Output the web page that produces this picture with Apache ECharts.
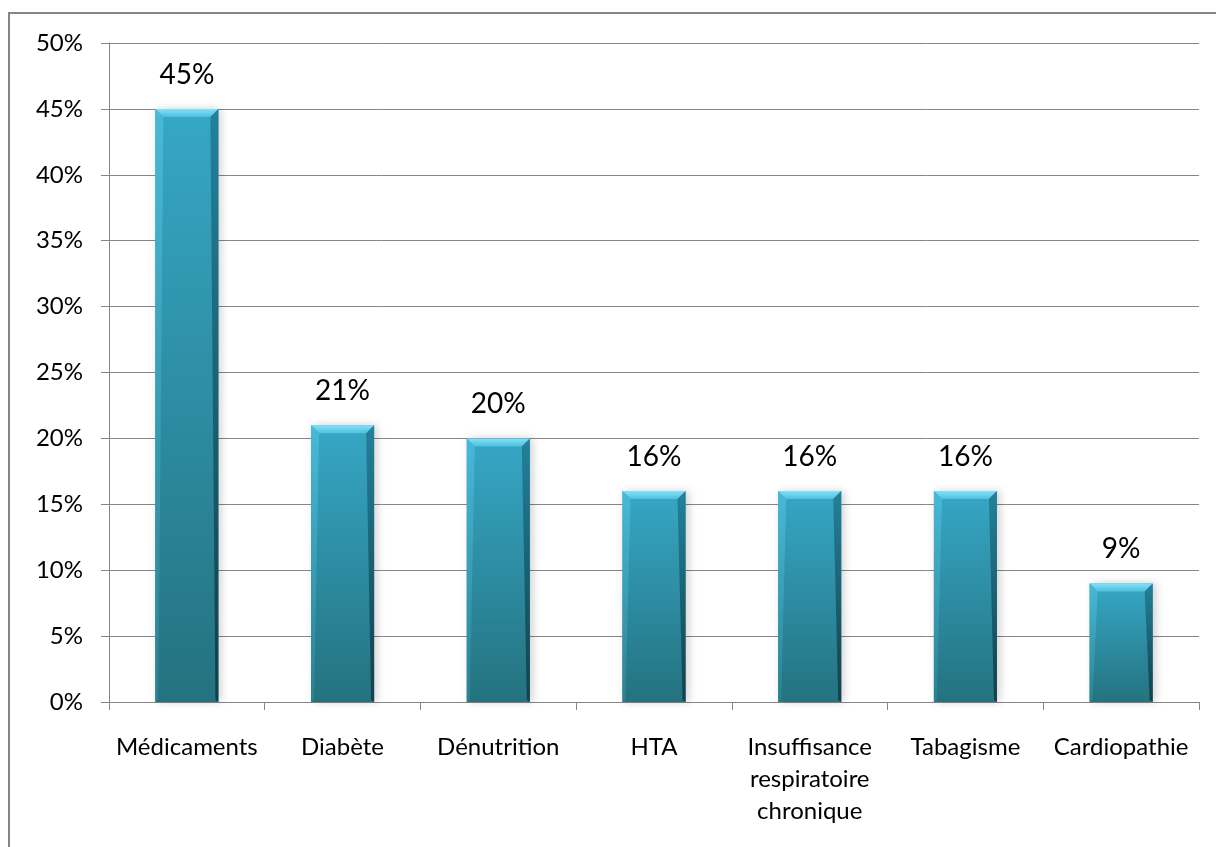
<!DOCTYPE html>
<html>
<head>
<meta charset="utf-8">
<script src="https://cdn.jsdelivr.net/npm/echarts@6/dist/echarts.min.js"></script>
<style>
  html, body { margin: 0; padding: 0; background: #ffffff; }
  #chart { width: 1216px; height: 847px; }
</style>
</head>
<body>
<div id="chart"></div>
<script>
// Risk factors (share of patients, %)
const categories = ['Médicaments', 'Diabète', 'Dénutrition', 'HTA',
  'Insuffisance\nrespiratoire\nchronique', 'Tabagisme', 'Cardiopathie'];
const values = [45, 21, 20, 16, 16, 16, 9];
const yTicks = { min: 0, max: 50, interval: 5 };

const FONT = 'Lato, "Open Sans", sans-serif';
const GRID_COLOR = '#868686';

const chart = echarts.init(document.getElementById('chart'), null, { renderer: 'canvas' });

// Bevelled bar: body with vertical gradient, light top cap, darker right edge
function renderBar(params, api) {
  const idx = api.value(0);
  const val = api.value(1);
  const top = api.coord([idx, val]);
  const base = api.coord([idx, 0]);
  const w = api.size([1, 0])[0] * 0.405;
  const x0 = top[0] - w / 2, x1 = top[0] + w / 2;
  const y0 = top[1], y1 = base[1];
  const b = 8;
  return {
    type: 'group',
    children: [
      {
        type: 'rect',
        shape: { x: x0, y: y0, width: w, height: y1 - y0 },
        style: {
          fill: new echarts.graphic.LinearGradient(0, 0, 0, 1, [
            { offset: 0, color: '#36a7c6' },
            { offset: 1, color: '#24727f' }
          ]),
          shadowBlur: 8, shadowOffsetX: 3, shadowOffsetY: 0,
          shadowColor: 'rgba(0,0,0,0.18)'
        }
      },
      {
        type: 'polygon',
        shape: { points: [[x0, y0], [x1, y0], [x1 - b, y0 + b], [x0 + b, y0 + b]] },
        style: {
          fill: new echarts.graphic.LinearGradient(0, 0, 0, 1, [
            { offset: 0, color: '#86e0f6' },
            { offset: 1, color: '#4cc0de' }
          ])
        }
      },
      {
        type: 'polygon',
        shape: { points: [[x1, y0], [x1, y1], [x1 - 3, y1 - 2], [x1 - b, y0 + b]] },
        style: {
          fill: new echarts.graphic.LinearGradient(0, 0, 0, 1, [
            { offset: 0, color: '#23819a' },
            { offset: 1, color: '#123f4a' }
          ])
        }
      },
      {
        type: 'polygon',
        shape: { points: [[x0, y0], [x0 + b, y0 + b], [x0 + 3, y1 - 2], [x0, y1]] },
        style: {
          fill: new echarts.graphic.LinearGradient(0, 0, 0, 1, [
            { offset: 0, color: '#48b9d8' },
            { offset: 1, color: '#2a8293' }
          ])
        }
      },
      {
        type: 'text',
        style: {
          text: val + '%',
          x: top[0], y: y0 - 20,
          align: 'center', verticalAlign: 'bottom',
          fill: '#000000', font: '28px ' + FONT
        }
      }
    ]
  };
}

chart.setOption({
  animation: false,
  backgroundColor: '#ffffff',
  graphic: [{
    type: 'rect',
    shape: { x: 9, y: 13, width: 1400, height: 1000 },
    style: { fill: 'none', stroke: '#868686', lineWidth: 2 },
    silent: true
  }],
  grid: { left: 109, right: 17, top: 43, bottom: 145 },
  xAxis: {
    type: 'category',
    data: categories,
    axisLine: { lineStyle: { color: GRID_COLOR, width: 1 } },
    axisTick: { show: true, length: 8, lineStyle: { color: GRID_COLOR } },
    axisLabel: {
      interval: 0, margin: 29, color: '#000000',
      fontFamily: FONT, fontSize: 24, lineHeight: 32, align: 'center'
    }
  },
  yAxis: {
    type: 'value',
    min: yTicks.min, max: yTicks.max, interval: yTicks.interval,
    axisLine: { show: true, lineStyle: { color: GRID_COLOR, width: 1 } },
    axisTick: { show: true, length: 8, lineStyle: { color: GRID_COLOR } },
    splitLine: { lineStyle: { color: GRID_COLOR, width: 1 } },
    axisLabel: {
      formatter: '{value}%', margin: 26, color: '#000000',
      fontFamily: FONT, fontSize: 24
    }
  },
  series: [{
    type: 'custom',
    renderItem: renderBar,
    encode: { x: 0, y: 1 },
    data: values.map((v, i) => [i, v]),
    z: 3
  }]
});
</script>
</body>
</html>
